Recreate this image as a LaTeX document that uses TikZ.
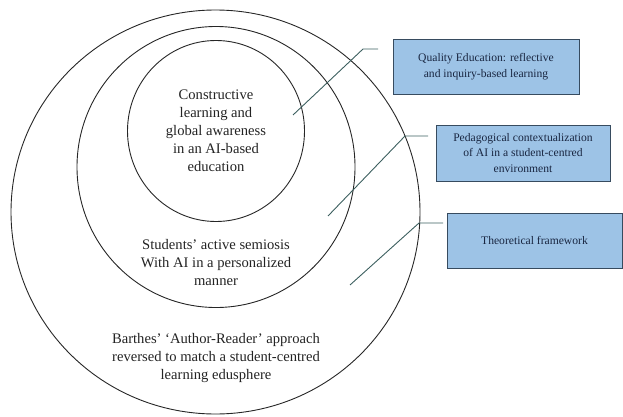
\documentclass[tikz,border=0pt]{standalone}
\usepackage{fontspec}
\setmainfont{Liberation Serif}
\usetikzlibrary{shapes.geometric}
\definecolor{boxfill}{RGB}{157,195,230}
\definecolor{boxline}{RGB}{55,75,95}
\definecolor{boxtext}{RGB}{25,38,65}
\definecolor{linkcol}{RGB}{60,95,95}
\definecolor{ringtext}{RGB}{35,35,35}
\begin{document}
\begin{tikzpicture}[x=1pt,y=1pt,
      ring/.style={draw=black!85,line width=0.9pt,ellipse,inner sep=0pt},
      ringlabel/.style={align=center,text=ringtext,font=\fontsize{14.6}{18}\selectfont},
      infobox/.style={draw=boxline,fill=boxfill,line width=0.9pt,align=center,
        text=boxtext,font=\fontsize{11.6}{15.5}\selectfont,inner sep=0pt},
      link/.style={draw=linkcol,line width=0.9pt}]
    \useasboundingbox (0,0) rectangle (623,416);
        \node[ring,minimum width=409pt,minimum height=404pt] (outer) at (215.5,204) {};
        \node[ring,minimum width=278pt,minimum height=281pt] (middle) at (216,249) {};
        \node[ring,minimum width=177pt,minimum height=181pt] (inner) at (216,285) {};
        \node[ringlabel] (innertext) at (216,285)
            {Constructive\\learning and\\global awareness\\in an AI-based\\education};
        \node[ringlabel] (middletext) at (216,153)
            {Students' active semiosis\\With AI in a personalized\\manner};
        \node[ringlabel] (outertext) at (216,58)
            {Barthes' `Author-Reader' approach\\reversed to match a student-centred\\learning edusphere};
        \node[infobox,minimum width=186pt,minimum height=55pt] (quality) at (486,349.5)
            {Quality Education: reflective\\and inquiry-based learning};
        \node[infobox,minimum width=174pt,minimum height=56pt] (pedagogy) at (523,263)
            {Pedagogical contextualization\\of AI in a student-centred\\environment};
        \node[infobox,minimum width=175pt,minimum height=55pt] (theory) at (534.5,175.5)
            {Theoretical framework};
        \coordinate (qstart) at (293,301);
        \coordinate (qbend) at (363,367);
        \coordinate (qend) at (378,367);
        \coordinate (pstart) at (328,200);
        \coordinate (pbend) at (405,280);
        \coordinate (pend) at (428,280);
        \coordinate (tstart) at (350,131);
        \coordinate (tbend) at (419,193);
        \coordinate (tend) at (443,193);
        \draw[link] (qstart) -- (qbend) -- (qend);
        \draw[link] (pstart) -- (pbend) -- (pend);
        \draw[link] (tstart) -- (tbend) -- (tend);
    \end{tikzpicture}
\end{document}
